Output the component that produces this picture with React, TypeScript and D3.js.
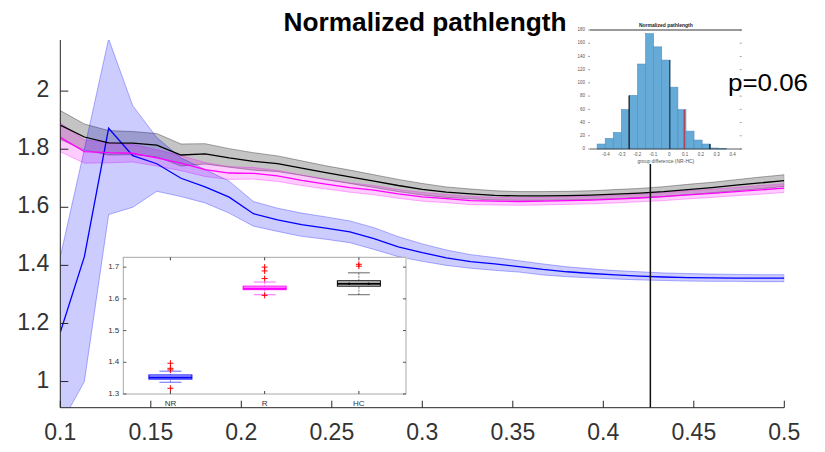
import React from "react";
import * as d3 from "d3";

const W = 825;
const H = 452;
const FONT = "'Liberation Sans', Arial, sans-serif";

// main curves: window size on x, three groups (NR, R, HC)
const windowSizes = [
  0.1, 0.1133, 0.1267, 0.14, 0.1533, 0.1667, 0.18, 0.1933, 0.2067, 0.22, 0.2333,
  0.2467, 0.26, 0.2733, 0.2867, 0.3, 0.3133, 0.3267, 0.34, 0.3533, 0.3667, 0.38,
  0.3933, 0.4067, 0.42, 0.4333, 0.4467, 0.46, 0.4733, 0.4867, 0.5,
];

const hcMean = [
  1.883, 1.842, 1.822, 1.821, 1.814, 1.78, 1.784, 1.77, 1.758, 1.75, 1.735, 1.719,
  1.705, 1.69, 1.675, 1.662, 1.652, 1.646, 1.641, 1.639, 1.639, 1.64, 1.642, 1.645,
  1.649, 1.654, 1.661, 1.668, 1.676, 1.684, 1.692,
];
const hcErr = [
  0.05, 0.045, 0.042, 0.04, 0.04, 0.038, 0.035, 0.032, 0.03, 0.027, 0.025, 0.024,
  0.023, 0.022, 0.021, 0.02, 0.018, 0.017, 0.016, 0.015, 0.015, 0.015, 0.015, 0.016,
  0.016, 0.017, 0.018, 0.018, 0.019, 0.02, 0.02,
];

const rMean = [
  1.841, 1.792, 1.788, 1.786, 1.77, 1.752, 1.73, 1.718, 1.717, 1.708, 1.693, 1.68,
  1.668, 1.659, 1.646, 1.636, 1.63, 1.623, 1.621, 1.62, 1.621, 1.623, 1.625, 1.628,
  1.632, 1.637, 1.643, 1.648, 1.654, 1.66, 1.666,
];
const rErr = [
  0.05, 0.04, 0.035, 0.03, 0.028, 0.026, 0.024, 0.022, 0.02, 0.019, 0.018, 0.017,
  0.016, 0.016, 0.015, 0.015, 0.014, 0.014, 0.013, 0.013, 0.013, 0.013, 0.013, 0.013,
  0.013, 0.014, 0.014, 0.014, 0.014, 0.015, 0.015,
];

const nrMean = [
  1.17, 1.43, 1.872, 1.778, 1.75, 1.7, 1.67, 1.635, 1.578, 1.557, 1.54, 1.528,
  1.515, 1.492, 1.464, 1.444, 1.426, 1.413, 1.405, 1.396, 1.386, 1.378, 1.372, 1.367,
  1.363, 1.36, 1.358, 1.357, 1.356, 1.356, 1.356,
];
const nrHigh = [
  1.43, 1.8, 2.18, 1.95, 1.84, 1.77, 1.73, 1.69, 1.62, 1.597, 1.58, 1.567, 1.553,
  1.53, 1.499, 1.474, 1.453, 1.437, 1.427, 1.416, 1.405, 1.395, 1.388, 1.382, 1.378,
  1.374, 1.372, 1.37, 1.369, 1.368, 1.368,
];
const nrLow = [
  0.85, 1.0, 1.575, 1.6, 1.655, 1.637, 1.615, 1.58, 1.535, 1.517, 1.5, 1.49, 1.478,
  1.455, 1.43, 1.414, 1.4, 1.39, 1.383, 1.377, 1.367, 1.361, 1.357, 1.353, 1.35, 1.348,
  1.346, 1.345, 1.345, 1.344, 1.344,
];

const xTicks = [0.1, 0.15, 0.2, 0.25, 0.3, 0.35, 0.4, 0.45, 0.5];
const yTicks = [1, 1.2, 1.4, 1.6, 1.8, 2];
const markerX = 0.426;

// boxplot inset
const boxGroups = ["NR", "R", "HC"];
const boxColors = ["#0000ff", "#ff00ff", "#000000"];
const boxQ1 = [1.347, 1.629, 1.64];
const boxMedian = [1.352, 1.633, 1.648];
const boxQ3 = [1.36, 1.64, 1.657];
const whiskerLow = [1.337, 1.613, 1.613];
const whiskerHigh = [1.372, 1.653, 1.682];
const boxOutliers = [
  [1.397, 1.381, 1.376, 1.318],
  [1.7, 1.688, 1.664, 1.611],
  [1.709, 1.703],
];
const boxYTicks = [1.3, 1.4, 1.5, 1.6, 1.7];

// histogram inset (permutation distribution)
const histEdges = [
  -0.455, -0.404, -0.353, -0.302, -0.251, -0.2, -0.149, -0.098, -0.047, 0.004, 0.055,
  0.106, 0.157, 0.208, 0.259, 0.31, 0.361,
];
const histCounts = [7.5, 16, 25, 59.5, 81, 128.5, 174.5, 154.5, 134.5, 93.5, 59.5, 27, 13.5, 7.5, 1.5, 0.5];
const histXTicks = [-0.4, -0.3, -0.2, -0.1, 0, 0.1, 0.2, 0.3, 0.4];
const histYTicks = [0, 20, 40, 60, 80, 100, 120, 140, 160, 180];
const histMarks = [
  { v: -0.253, h: 81, c: "#111" },
  { v: 0.004, h: 134.5, c: "#1d3a55" },
  { v: 0.095, h: 59.5, c: "#c0303a" },
  { v: 0.257, h: 7.5, c: "#111" },
];

function Band({ low, high, color, opacity, x, y }) {
  const area = d3
    .area<number>()
    .x((_, i) => x(windowSizes[i]))
    .y0((_, i) => y(low[i]))
    .y1((_, i) => y(high[i]));
  return (
    <path
      d={area(windowSizes) || ""}
      fill={color}
      fillOpacity={opacity}
      stroke={color}
      strokeOpacity={opacity + 0.1}
      strokeWidth={1}
    />
  );
}

function BoxInset() {
  const left = 123.3, right = 406, top = 257.3, bottom = 394;
  const x = d3.scaleLinear().domain([0.5, 3.5]).range([left, right]);
  const y = d3.scaleLinear().domain([1.3, 1.731]).range([bottom, top]);
  const boxW = 43;
  const capW = 22;
  return (
    <g>
      <rect x={106} y={257} width={301} height={150} fill="white" />
      <rect x={left} y={top} width={right - left} height={bottom - top} fill="none" stroke="#a8a8a8" strokeWidth={1} />
      {boxYTicks.map((t) => (
        <g key={t}>
          <line x1={left} x2={left + 3} y1={y(t)} y2={y(t)} stroke="#555" />
          <line x1={right} x2={right - 3} y1={y(t)} y2={y(t)} stroke="#555" />
          <text x={left - 4} y={y(t)} textAnchor="end" dominantBaseline="middle" fontSize={8} fill="#333" fontFamily={FONT}>
            {t.toFixed(1)}
          </text>
        </g>
      ))}
      {boxGroups.map((g, i) => {
        const cx = x(i + 1);
        const col = boxColors[i];
        return (
          <g key={g}>
            <line x1={cx} x2={cx} y1={top} y2={top + 3} stroke="#444" />
            <line x1={cx} x2={cx} y1={bottom} y2={bottom - 3} stroke="#444" />
            <text x={cx} y={bottom + 10} textAnchor="middle" dominantBaseline="middle" fontSize={8} fill="#333" fontFamily={FONT}>
              {g}
            </text>
            <line x1={cx} x2={cx} y1={y(whiskerHigh[i])} y2={y(boxQ3[i])} stroke={col} strokeOpacity={0.5} strokeDasharray="2,1" />
            <line x1={cx} x2={cx} y1={y(whiskerLow[i])} y2={y(boxQ1[i])} stroke={col} strokeOpacity={0.5} strokeDasharray="2,1" />
            <line x1={cx - capW / 2} x2={cx + capW / 2} y1={y(whiskerHigh[i])} y2={y(whiskerHigh[i])} stroke={col} strokeOpacity={0.6} />
            <line x1={cx - capW / 2} x2={cx + capW / 2} y1={y(whiskerLow[i])} y2={y(whiskerLow[i])} stroke={col} strokeOpacity={0.6} />
            <rect
              x={cx - boxW / 2}
              y={y(boxQ3[i])}
              width={boxW}
              height={y(boxQ1[i]) - y(boxQ3[i])}
              fill={col}
              fillOpacity={0.12}
              stroke={col}
              strokeWidth={1}
            />
            <line x1={cx - boxW / 2} x2={cx + boxW / 2} y1={y(boxMedian[i])} y2={y(boxMedian[i])} stroke={col} strokeWidth={2} />
            {i === 2 && (
              <g fill={col}>
                <path d={`M${cx - 12},${y(boxMedian[i])} l3,-1.5 l0,3 z`} />
                <path d={`M${cx + 12},${y(boxMedian[i])} l-3,-1.5 l0,3 z`} />
              </g>
            )}
            {boxOutliers[i].map((v, k) => (
              <path key={k} d={`M${cx - 3},${y(v)}h6M${cx},${y(v) - 3}v6`} stroke="#ff0000" strokeWidth={1} />
            ))}
          </g>
        );
      })}
    </g>
  );
}

function HistInset() {
  const left = 590, right = 741.7, top = 30, bottom = 149;
  const x = d3.scaleLinear().domain([-0.5, 0.458]).range([left, right]);
  const y = d3.scaleLinear().domain([0, 180]).range([bottom, top]);
  return (
    <g>
      <rect x={566} y={18} width={186} height={146} fill="white" />
      {histCounts.map((c, i) => (
        <rect
          key={i}
          x={x(histEdges[i])}
          y={y(c)}
          width={x(histEdges[i + 1]) - x(histEdges[i])}
          height={bottom - y(c)}
          fill="#66aad7"
          stroke="#4f8fc0"
          strokeWidth={0.6}
        />
      ))}
      {histMarks.map((m, i) => (
        <line key={i} x1={x(m.v)} x2={x(m.v)} y1={bottom} y2={y(m.h)} stroke={m.c} strokeWidth={1.2} />
      ))}
      <line x1={left} x2={right} y1={top} y2={top} stroke="#9a9a9a" strokeWidth={2} />
      <line x1={left} x2={right} y1={bottom} y2={bottom} stroke="#333" strokeWidth={0.8} />
      {histYTicks.map((t) => (
        <g key={t}>
          <line x1={left - 2} x2={left} y1={y(t)} y2={y(t)} stroke="#666" strokeWidth={0.6} />
          <line x1={right - 2} x2={right} y1={y(t)} y2={y(t)} stroke="#666" strokeWidth={0.6} />
          <text x={left - 5} y={y(t)} textAnchor="end" dominantBaseline="middle" fontSize={4.5} fill="#555" fontFamily={FONT}>
            {t}
          </text>
        </g>
      ))}
      {histXTicks.map((t) => (
        <text key={t} x={x(t)} y={bottom + 6} textAnchor="middle" dominantBaseline="middle" fontSize={4.5} fill="#555" fontFamily={FONT}>
          {t}
        </text>
      ))}
      <text x={(left + right) / 2} y={bottom + 13} textAnchor="middle" dominantBaseline="middle" fontSize={5} fill="#555" fontFamily={FONT}>
        group difference (NR-HC)
      </text>
      <text x={(left + right) / 2} y={top - 3.5} textAnchor="middle" fontSize={5} fontWeight="bold" fill="#222" fontFamily={FONT}>
        Normalized pathlength
      </text>
    </g>
  );
}

export default function App() {
  const x = d3.scaleLinear().domain([0.1, 0.5]).range([60.3, 784.3]);
  const y = d3.scaleLinear().domain([0.91, 2.176]).range([407.7, 40]);

  const hcLow = hcMean.map((m, i) => m - hcErr[i]);
  const hcHigh = hcMean.map((m, i) => m + hcErr[i]);
  const rLow = rMean.map((m, i) => m - rErr[i]);
  const rHigh = rMean.map((m, i) => m + rErr[i]);

  const line = (vals: number[]) =>
    d3
      .line<number>()
      .x((_, i) => x(windowSizes[i]))
      .y((d) => y(d))(vals) || "";

  const [x0, x1] = x.range();
  const [yb, yt] = y.range();

  return (
    <svg width={W} height={H} style={{ position: "absolute", left: 0, top: 0, background: "white" }}>
      <defs>
        <clipPath id="plotArea">
          <rect x={x0} y={yt} width={x1 - x0} height={yb - yt} />
        </clipPath>
      </defs>
      <g clipPath="url(#plotArea)">
        <Band low={hcLow} high={hcHigh} color="#000000" opacity={0.23} x={x} y={y} />
        <Band low={rLow} high={rHigh} color="#ff00ff" opacity={0.2} x={x} y={y} />
        <Band low={nrLow} high={nrHigh} color="#0000ff" opacity={0.2} x={x} y={y} />
        <path d={line(nrMean)} fill="none" stroke="#0000ff" strokeWidth={1.3} />
        <path d={line(rMean)} fill="none" stroke="#ff00ff" strokeWidth={1.3} />
        <path d={line(hcMean)} fill="none" stroke="#000000" strokeWidth={1.3} />
      </g>
      <line x1={x(markerX)} x2={x(markerX)} y1={yb} y2={yt} stroke="#111" strokeWidth={1.5} />

      <BoxInset />

      {/* axes */}
      <line x1={x0} x2={x1} y1={yb} y2={yb} stroke="#262626" strokeWidth={1} />
      <line x1={x0} x2={x0} y1={yb} y2={yt} stroke="#262626" strokeWidth={1} />
      {xTicks.map((t) => (
        <g key={t}>
          <line x1={x(t)} x2={x(t)} y1={yb} y2={yb - 7} stroke="#262626" />
          <text x={x(t)} y={yb + 26} textAnchor="middle" dominantBaseline="middle" fontSize={23} fill="#333" fontFamily={FONT}>
            {t}
          </text>
        </g>
      ))}
      {yTicks.map((t) => (
        <g key={t}>
          <line x1={x0} x2={x0 + 8} y1={y(t)} y2={y(t)} stroke="#262626" />
          <text x={x0 - 11} y={y(t)} textAnchor="end" dominantBaseline="middle" fontSize={23} fill="#333" fontFamily={FONT}>
            {t}
          </text>
        </g>
      ))}

      <HistInset />

      <text x={425} y={31} textAnchor="middle" fontSize={25} fontWeight="bold" fill="#000" fontFamily={FONT} textLength={283} lengthAdjust="spacingAndGlyphs">
        Normalized pathlength
      </text>
      <text x={728} y={91} fontSize={24} fill="#000" fontFamily={FONT} textLength={80} lengthAdjust="spacingAndGlyphs">
        p=0.06
      </text>
    </svg>
  );
}
